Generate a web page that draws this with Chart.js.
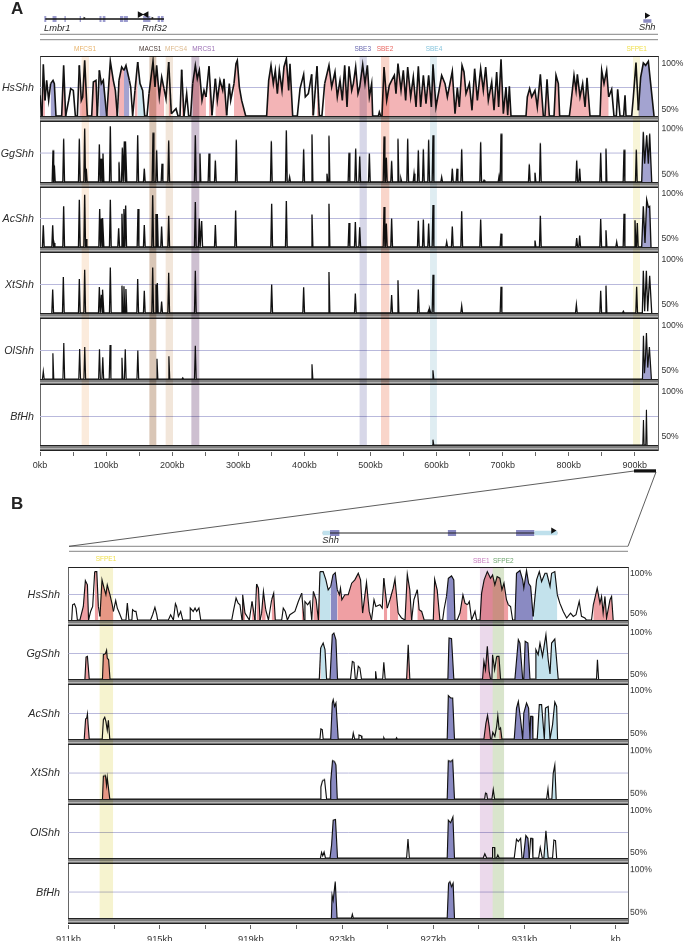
<!DOCTYPE html>
<html>
<head>
<meta charset="utf-8">
<title>VISTA plots</title>
<script src="https://cdn.jsdelivr.net/npm/chart.js@4/dist/chart.umd.js"></script>
<style>
  html, body { margin: 0; padding: 0; background: #fff; }
  #page { position: relative; width: 685px; height: 941px; overflow: hidden; font-family: "Liberation Sans", Arial, sans-serif; color: #2b2b2b; }
  #page canvas { position: absolute; left: 0; }
  .txt { position: absolute; white-space: nowrap; line-height: 1; }
  .strip { position: absolute; height: 6px; background: linear-gradient(#222 0 1px, #808080 1px 3px, #b4b4b4 3px 3.8px, #747474 3.8px 5px, #222 5px 6px); }
  .frame { position: absolute; box-sizing: border-box; border-left: 1px solid #666; border-right: 1.5px solid #666; border-top: 1px solid #222; }
  svg { position: absolute; left: 0; top: 0; }
  .bands { mix-blend-mode: multiply; }
</style>
</head>
<body>
<div id="page">
  <svg width="685" height="941">
    <g stroke="#777" stroke-width="0.9" fill="none">
      <line x1="40" y1="34.3" x2="658" y2="34.3"/>
      <line x1="40" y1="39.7" x2="658" y2="39.7"/>
      <line x1="69" y1="546.3" x2="628" y2="546.3"/>
      <line x1="69" y1="551.3" x2="628" y2="551.3"/>
    </g>
    <g stroke="#333" stroke-width="0.8" fill="none">
      <line x1="634" y1="471" x2="69" y2="546.3"/>
      <line x1="656" y1="472" x2="628" y2="546.3"/>
    </g>
    <rect x="634" y="469.3" width="22" height="3.2" fill="#111"/>
  </svg>
</div>
<script>
// species
const speciesA = ["HsShh", "GgShh", "AcShh", "XtShh", "OlShh", "BfHh"];
const speciesB = ["HsShh", "GgShh", "AcShh", "XtShh", "OlShh", "BfHh"];

// x axis ticks
const tickKbA = [0,50,100,150,200,250,300,350,400,450,500,550,600,650,700,750,800,850,900];
const tickTextA = ["0kb","","100kb","","200kb","","300kb","","400kb","","500kb","","600kb","","700kb","","800kb","","900kb"];
const tickKbB = [911,913,915,917,919,921,923,925,927,929,931,933,935];
const tickTextB = ["911kb","","915kb","","919kb","","923kb","","927kb","","931kb","","kb"];

// highlighted elements
const bandNamesA = ["MFCS1","MACS1","MFCS4","MRCS1","SBE3","SBE2","SBE4","SFPE1"];
const bandStartA = [63.5,166,190.6,229.5,484,516.4,590.6,897.7];
const bandEndA = [73.6,175.5,200.7,240.5,494,528,600,907.3];
const bandNamesB = ["SFPE1","SBE1","SFPE2"];
const bandStartB = [912.38,929.06,929.59];
const bandEndB = [912.94,929.59,930.09];

// panel A, whole locus: [kb, % identity]
const hsA = [[0,68.1],[3,50],[5,95.3],[7.6,63.7],[10.1,81.3],[13.1,63.7],[16.1,78.4],[19.7,81.3],[21.7,78.4],[24.2,50],[32.8,50],[35.8,94.4],[38.8,50],[43.4,63.7],[46.4,74],[50.4,72.5],[53.5,50],[56.5,50],[59.5,94.4],[62.5,63.7],[64.6,66.7],[67.6,98.8],[71.6,50],[78.2,50],[80.7,79.8],[84.7,81.3],[86.7,50],[89.8,90],[92.8,78.4],[95.8,81.3],[100.9,50],[106.4,98],[110.9,81.3],[114,72.5],[117,50],[119.5,81.3],[123.6,93],[127.1,90],[130.1,94.4],[135.2,81.3],[137.2,75.4],[140.2,50],[143.7,72.5],[147.8,97.4],[151.3,78.4],[155.3,72.5],[158.4,50],[161.9,50],[164.9,69.6],[171,98],[174,75.4],[176.5,94.4],[180.5,66.7],[184.1,84.2],[187.6,74],[190.6,65.2],[194.7,97.4],[198.7,52],[205.8,56.4],[208.8,50],[211.8,50],[214.3,90.6],[217.9,50],[221.9,69.6],[224.9,50],[227.9,50],[231,78.4],[235,94.4],[238,82.7],[241.1,90],[245.1,63.7],[248.1,72.5],[251.1,66.7],[255.7,93.6],[260.2,50.6],[265.3,82.7],[268.3,63.7],[272.3,81.3],[276.4,72.5],[278.4,82.7],[282.4,50.6],[286.4,78.4],[288.5,63.7],[293.5,78.4],[296.5,95.9],[298.5,98.8],[301.6,75.4],[305.1,63.7],[311.2,50],[342.9,50],[346,81.3],[349.5,94.4],[353,78.4],[356,90],[359.1,69.6],[362.1,90],[366.1,72.5],[369.1,93],[372.7,100.3],[376.2,72.5],[378.2,95.9],[382.3,50],[389.3,50],[393.4,74],[398.9,86.5],[401.4,66.7],[406,69.6],[411,86.5],[413.5,50.6],[419.1,93.6],[422.6,50],[426.6,50.6],[430.7,78.4],[437.2,94.4],[441.3,75.4],[446.3,88.6],[449.8,66.7],[453.9,81.3],[457.4,63.7],[461,94.4],[464.5,57.9],[467.5,93.6],[471.6,72.5],[474.1,78.4],[477.6,93],[481.1,69.6],[483.7,75.4],[488.2,95],[491.7,78.4],[495.3,94.4],[498.3,66.7],[501.8,78.4],[503.3,50],[511.9,50],[513.4,53.5],[515.4,50],[517.4,50],[520.5,93],[524.5,63.7],[528.5,76.9],[532.1,81.3],[536.1,85.7],[538.6,69.6],[541.6,95.9],[546.2,72.5],[549.7,90],[553.2,63.7],[556.3,93],[560.8,66.7],[564.8,84.2],[568.9,57.9],[572.4,93.6],[575.9,57.9],[580,85.7],[584,60.8],[588,85.7],[592.1,57.9],[594.6,95.3],[599.1,57.9],[603.7,72.5],[607.7,85.7],[612.8,78.4],[616.3,66.7],[623.8,89.2],[627.9,52],[631.4,74.9],[634.4,57.9],[638.5,94.4],[641.5,88.6],[644.5,69.6],[649.6,78.4],[653.6,55],[657.6,91.5],[661.7,63.7],[666.7,91.5],[670.7,72.5],[674.3,93],[678.3,63.7],[683.4,79.8],[686.9,55],[690.9,88.6],[693.9,57.9],[697.5,99.7],[701,52],[705,75.4],[707.6,50.6],[710.1,76],[712.6,50],[735.3,50],[737.3,66.7],[740.8,74],[743.9,66.7],[748.9,72.5],[752.4,57.9],[757,86.5],[761.5,50],[764,50],[767.1,82.2],[770.6,50],[777.7,50],[780.7,85.7],[784.2,78.4],[786.2,50],[800.9,50],[802.9,59.4],[807.9,85.7],[811,72.5],[813,86.5],[817,66.7],[821,78.4],[824.6,57.9],[827.6,83.6],[832.1,50],[847.3,50],[849.8,90],[853.3,78.4],[857.3,90],[860.4,66.7],[864.9,73.4],[868.4,50],[872,50],[874,73.4],[877.5,50],[883,50],[885.1,68.1],[886.6,50],[895.2,50],[897.7,66.7],[901.7,96.8],[905.3,55],[908.8,84.2],[912.8,96.5],[916.3,94.4],[920.4,98],[923.9,78.4],[929,50]];
const ggA = [[19.7,77.8],[21.7,64.6],[35.8,88],[59.5,88],[67.6,96.8],[70,61.7],[89.8,83],[92.3,70.5],[95.3,74.9],[106.4,98.8],[119.5,67.5],[124.6,80],[127.6,85.7],[130,85.7],[147.8,91],[157.8,61.7],[171,93.3],[176.5,77.8],[184.6,66],[194.7,86.3],[235,91],[242,74.9],[255.7,74.9],[265.3,69],[297,87],[350,86],[372.7,95.3],[377.7,54.4],[398.9,78.7],[411.5,91.8],[434.2,57.3],[437.2,90.6],[467.5,75.7],[477.6,79.2],[483.7,72.5],[498.3,74.9],[520.5,90],[524,71.3],[532,68.4],[541.6,88],[546,53],[556.3,88],[565.9,57.3],[572.4,77.8],[580,78.7],[588,87],[594.6,91],[607.7,54.4],[623.8,61.7],[630.9,61.7],[638,78.7],[666.7,85],[671.8,51.5],[694.5,55],[697.5,92.4],[740.3,65.5],[748.9,58.2],[757,84.2],[812,69],[816.5,61.7],[848.3,75.7],[856.3,79.2],[883.6,78.4],[902.2,78.4]];
const ggATail = [[910.3,50],[912.8,93.9],[914.8,66],[917.9,91],[920.4,66],[922.4,92.4],[925.5,50]];
const acA = [[5,69],[19.2,69],[21.2,53.5],[35.8,85.7],[59.5,91.5],[67.6,95.9],[69.6,57],[90.3,83.3],[92.8,74.9],[95.3,75.4],[106.4,91.5],[119,66.4],[124,79.2],[127,83.3],[129.6,86.3],[148.3,83.3],[157.8,69.3],[170.5,95.3],[175.5,79],[177.5,79],[184,68],[194.7,77.5],[235,89.5],[241,74.9],[244.6,72.8],[265.3,69.3],[296,82],[350.5,88],[372.7,90.4],[411.5,78.4],[437.2,88],[467.5,71],[477.1,72],[483.7,67.3],[520.5,85],[524,70.5],[532,74.9],[572.4,73],[580,74],[588,70.5],[594.6,86.8],[615.3,54.4],[623.8,68],[638,81.3],[666.7,74],[697.5,61.7],[748.9,55.6],[757,77.5],[812,57.9],[816.5,60],[848.3,74.6],[856.3,64.6],[872.5,54.4],[883.6,79.2],[900.2,73.4],[903.7,71]];
const acATail = [[910.3,50],[912.8,85.7],[915.3,53.5],[917.9,91.5],[920.4,85],[922.4,85.7],[924.4,50]];
const xtA = [[19.2,70.5],[35.3,81.6],[59.5,79.8],[67.6,88],[89.8,72.8],[92.8,66],[95.3,70.5],[106.4,89.8],[124,74],[127,73.4],[130,71],[147.8,79.8],[157.8,69.6],[170.5,89.8],[175.5,74.9],[177.5,76.3],[184,60],[194.7,85.4],[235,87],[350.5,74.9],[398.9,72.5],[437.2,86],[477.1,67],[532,65.8],[541.6,78.7],[572.4,70.5],[588,52.3],[590,53.8],[594.6,83.6],[638,56.4],[697.5,73],[811.5,57.3],[848.3,69.6],[856.3,74],[882.6,51.5],[902.7,73]];
const xtATail = [[911.3,50],[912.8,87],[914.8,51.5],[917.4,87],[919.4,51.5],[922.4,82.7],[925.5,50]];
const olA = [[5,56.7],[19.5,72.5],[36,81.6],[60,76.3],[67.7,78],[90,76],[95,69],[106,79.8],[124,68.7],[129,76],[148,75],[177,67.8],[195,70],[216,51],[235,79.2],[411.5,63],[594.5,57.6]];
const olATail = [[911.5,50],[913,88],[914.5,55],[916,68],[917.5,90.4],[919.5,60],[922,78],[925,50]];
const bfA = [[594.5,54.7]];
const bfATail = [[912,50],[913,72],[914,50],[916.5,50],[917.5,81],[918.5,50]];

// fill regions [start kb, end kb, kind]: 0 conserved non-coding, 1 exon, 2 UTR
const hsAFill = [[3,7.6,0],[16.1,24.2,1],[32.8,38.8,0],[59.5,71.6,0],[78.2,86.7,0],[89.8,100.9,1],[100.9,117,0],[119.5,127.1,0],[127.1,135.2,1],[143.7,147.8,0],[147.8,158.4,2],[164.9,187.6,0],[194.7,198.7,0],[214.3,217.9,0],[231,251.1,0],[255.7,260.2,0],[265.3,282.4,0],[293.5,311.2,0],[342.9,382.3,0],[411,413.5,0],[419.1,422.6,0],[430.7,503.3,0],[517.4,712.6,0],[735.3,761.5,0],[764,770.6,0],[777.7,786.2,0],[800.9,832.1,0],[847.3,860.4,0],[905.3,929,1]];
const ggAFill = [[910,926,1]];
const acAFill = [[910,925,1]];
const olAFill = [[911,925,1]];

// panel B, zoom on Shh
const hsB = [[911.14,50],[911.18,64.7],[911.26,65.7],[911.33,61.5],[911.39,50],[911.5,50],[911.65,63.1],[911.74,88.1],[911.83,84],[911.88,50],[911.97,58.3],[912.06,63.1],[912.15,96.8],[912.24,96.8],[912.31,63.1],[912.38,53.5],[912.47,88.8],[912.56,80.8],[912.64,74.4],[912.7,84],[912.82,74.4],[912.91,65.7],[912.97,58.3],[913.07,68.9],[913.14,61.5],[913.23,56.7],[913.35,50],[913.52,50],[913.58,66.3],[913.65,50],[913.78,50],[913.81,59.9],[913.9,58.3],[913.96,58.3],[914.03,50],[914.6,50],[914.69,55.1],[914.79,62.2],[914.87,55.1],[914.91,50],[915.38,50],[915.48,55.1],[915.6,50],[915.69,65.7],[915.74,63.1],[915.82,53.5],[915.92,58.3],[916.01,50],[916.33,50],[916.34,61.5],[916.47,58.3],[916.55,61.5],[916.62,58.3],[916.72,61.5],[916.8,50],[918.16,50],[918.23,58.3],[918.35,71.2],[918.44,66.3],[918.52,64.7],[918.61,50],[918.64,74.4],[918.74,56.7],[918.93,50],[919.05,67.9],[919.18,50],[919.25,84.9],[919.33,80.8],[919.4,50],[919.47,56.7],[919.55,77.6],[919.65,59.9],[919.77,50],[919.91,69.6],[920,76],[920.07,50],[920.35,50],[920.42,61.5],[920.51,58.3],[920.6,50],[920.71,55.1],[920.93,58.3],[921.08,67.9],[921.23,76],[921.33,50],[921.37,67.9],[921.49,64.7],[921.59,67.9],[921.67,50],[921.74,77.6],[921.86,69.6],[921.96,50],[922.03,96.8],[922.17,96.8],[922.29,88.8],[922.39,79.2],[922.5,82.4],[922.6,93.6],[922.7,95.8],[922.79,79.2],[922.88,74.4],[922.93,80.8],[922.99,69.6],[923.12,74.4],[923.27,74.4],[923.42,85.6],[923.56,88.8],[923.71,95.2],[923.81,88.8],[923.9,56.7],[924.07,86.2],[924.19,58.3],[924.29,50],[924.4,69.6],[924.48,63.1],[924.66,64.7],[924.76,61.5],[924.83,90.4],[924.92,72.8],[924.98,61.5],[925.1,69.6],[925.24,80.8],[925.32,89.7],[925.46,56.7],[925.61,51.9],[925.76,50],[925.86,94.2],[925.97,79.2],[926.05,50],[926.15,69.6],[926.3,79.2],[926.38,59.9],[926.49,58.3],[926.6,50],[927,50],[927.06,89.4],[927.17,79.2],[927.29,50],[927.41,50],[927.47,59.9],[927.58,72.8],[927.66,90.4],[927.8,92.6],[927.9,88.8],[927.95,50],[928.05,50],[928.17,56.7],[928.3,74.4],[928.39,66.3],[928.5,64.7],[928.58,67.9],[928.68,50],[928.83,58.3],[928.9,50],[929.05,50],[929.12,76],[929.23,88.8],[929.37,96.8],[929.51,90.4],[929.6,93.6],[929.7,84],[929.8,92],[929.92,90.4],[930.01,79.2],[930.1,85.6],[930.21,69.6],[930.29,64.7],[930.39,63.1],[930.48,50],[930.58,50],[930.65,95.2],[930.8,97.8],[930.92,88.8],[930.97,80.8],[931.09,97.8],[931.18,85.6],[931.27,82.4],[931.38,53.5],[931.53,88.8],[931.65,96.8],[931.75,87.2],[931.9,95.2],[931.98,95.2],[932.12,82.4],[932.19,95.2],[932.33,96.8],[932.44,74.4],[932.55,66.3],[932.7,58.3],[932.85,51.9],[933.02,56.7],[933.14,53.5],[933.26,55.1],[933.4,67.9],[933.5,53.5],[933.65,51.9],[933.72,50],[933.94,50],[934.02,64.7],[934.19,80.8],[934.31,66.3],[934.38,72.8],[934.45,56.7],[934.53,72.8],[934.6,51.9],[934.75,69.6],[934.82,72.8],[934.89,50]];
const ggB = [[911.72,50],[911.77,71.7],[911.83,72.4],[911.91,50],[912.49,50],[912.53,74],[912.62,75],[912.67,78.3],[912.7,70.7],[912.76,69],[912.82,50],[922,50],[922.06,80.6],[922.17,85.5],[922.25,79],[922.32,50],[922.47,50],[922.57,93.8],[922.64,95.4],[922.73,88.8],[922.8,50],[923.37,50],[923.45,67.4],[923.52,66.5],[923.58,50],[923.64,50],[923.71,62.5],[923.78,60.9],[923.85,50],[924.45,50],[924.47,57.6],[924.51,50],[924.78,50],[924.83,66.5],[924.89,50],[925.83,50],[925.9,83.9],[925.97,50],[927.64,50],[927.69,90.5],[927.8,89.8],[927.9,50],[929.16,50],[929.22,67.4],[929.29,59.2],[929.37,82.2],[929.45,57.6],[929.51,50],[929.57,50],[929.6,74],[929.69,59.2],[929.78,72.4],[929.88,72.4],[929.95,50],[930.58,50],[930.73,88.8],[930.8,85.5],[930.92,50],[930.97,50],[931.03,87.2],[931.15,85.5],[931.24,50],[931.47,50],[931.5,79],[931.6,74],[931.68,85.5],[931.79,72.4],[931.94,93.8],[932.04,69],[932.12,55],[932.19,85.5],[932.33,89.5],[932.48,50],[934.16,50],[934.2,69],[934.25,50]];
const acB = [[911.69,50],[911.75,69.7],[911.8,70.7],[911.83,74.7],[911.86,64],[911.91,50],[912.48,50],[912.53,69],[912.59,71.4],[912.64,67.4],[912.7,58.6],[912.75,68.4],[912.81,50],[922.03,50],[922.07,59.9],[922.13,59.2],[922.17,50],[922.5,50],[922.57,85.5],[922.61,88.8],[922.67,82.2],[922.73,85.5],[922.83,50],[923.45,50],[923.49,55.9],[923.55,50],[923.71,50],[923.74,53.9],[923.83,53.3],[923.87,50],[924.8,50],[924.83,51.3],[924.86,50],[925.36,50],[925.39,51.3],[925.42,50],[927.61,50],[927.66,92.8],[927.76,90.5],[927.85,90.5],[927.93,50],[929.22,50],[929.31,65.8],[929.38,73.4],[929.45,62.5],[929.51,50],[929.56,50],[929.61,56.6],[929.7,52.6],[929.78,62.5],[929.83,73],[929.89,59.2],[929.95,60.9],[930.01,50],[930.55,50],[930.65,80.6],[930.73,87.2],[930.83,69],[930.92,50],[930.97,75.7],[931.09,85.5],[931.18,80.6],[931.24,50],[931.27,72.4],[931.34,72.4],[931.37,50],[931.56,50],[931.65,83.9],[931.75,83.9],[931.87,50],[931.92,80.6],[932.04,82.2],[932.12,50],[932.23,64],[932.33,86.5],[932.41,82.2],[932.45,50]];
const xtB = [[912.49,50],[912.53,72.4],[912.62,73],[912.67,63.5],[912.7,71],[912.81,50],[922.04,50],[922.07,61.8],[922.14,67.8],[922.23,69],[922.32,50],[922.47,50],[922.5,66.8],[922.58,87.5],[922.67,86.5],[922.73,83.2],[922.79,50],[927.61,50],[927.66,87.5],[927.76,86.5],[927.85,88.2],[927.93,50],[929.25,50],[929.29,55.9],[929.34,55.3],[929.38,50],[929.57,50],[929.63,59.2],[929.69,50],[931.97,50],[932.03,59.9],[932.07,50],[932.2,50],[932.26,75],[932.33,83.2],[932.39,50]];
const olB = [[922.05,50],[922.1,55.6],[922.15,52.3],[922.21,55.9],[922.27,50],[922.47,50],[922.54,63.2],[922.61,87.8],[922.71,88.5],[922.8,50],[925.83,50],[925.89,69],[925.95,50],[927.61,50],[927.66,87.8],[927.76,85.2],[927.86,91],[927.93,50],[929.19,50],[929.26,54.3],[929.34,50],[929.59,50],[929.6,60.5],[929.69,60.5],[929.7,50],[929.78,50],[929.83,53],[929.89,50],[930.55,50],[930.65,68.8],[930.73,66.5],[930.83,69.7],[930.89,50],[930.95,50],[931.06,72.4],[931.15,69.7],[931.21,50],[931.27,69.7],[931.33,69.7],[931.37,50],[931.62,50],[931.69,60.5],[931.78,50],[931.85,50],[931.94,77.3],[932.04,50],[932.23,50],[932.29,68],[932.36,67.4],[932.41,50]];
const bfB = [[922.53,50],[922.56,72.4],[922.61,67.4],[922.7,85.5],[922.78,50],[923.41,50],[923.45,53.6],[923.49,50],[927.61,50],[927.67,83.9],[927.73,85.5],[927.8,80.6],[927.87,83.9],[927.93,50]];

const hsBFill = [[911.5,911.88,0],[912.15,912.31,0],[912.38,912.97,0],[918.61,918.74,0],[919.05,919.18,0],[919.25,919.4,0],[919.47,919.65,0],[919.91,920.07,0],[921.23,921.33,0],[921.74,922.03,0],[922.03,922.5,2],[922.5,922.79,1],[922.79,924.29,0],[924.83,924.98,0],[925.1,925.46,0],[925.76,926.05,0],[926.3,926.6,0],[927,927.29,0],[927.58,927.95,1],[928.17,928.5,0],[929.05,930.29,0],[930.58,931.38,1],[931.38,932.44,2],[934.02,934.89,0]];
const ggBFill = [[911.72,911.91,0],[912.49,912.82,0],[922,922.06,0],[922.06,922.32,2],[922.47,922.8,1],[925.83,925.97,0],[927.64,927.9,1],[929.16,929.51,0],[929.78,929.95,0],[930.58,931.24,1],[931.47,932.48,2]];
const acBFill = [[911.69,911.91,0],[922.5,922.83,1],[927.61,927.93,1],[929.22,929.51,0],[929.89,930.01,0],[930.55,931.37,1],[931.56,932.45,2]];
const xtBFill = [[912.49,912.81,0],[922.47,922.79,1],[927.61,927.93,1],[932.2,932.39,2]];
const olBFill = [[922.47,922.8,1],[927.61,927.93,1],[930.95,931.21,1],[931.85,932.04,2]];
const bfBFill = [[922.53,922.78,1],[927.61,927.93,1]];

// gene models
const lmbrExons = [[6.5,9.5],[19,25],[37,39],[60,62],[90,93],[95,99],[121,126],[127,133],[156,167],[178,181.5],[183,187]];
const shhExonsA = [[912.8,925]];
const shhExonsB = [[922.47,922.88],[927.64,928],[930.63,931.43]];
const shhUtrB = [[922.15,922.47],[931.43,932.44]];

const fillKindsA = ["#F3B4B6", "#A3A3D0", "#CFE6EF"];
const fillKindsB = ["#EF9FA3", "#8A8AC2", "#C3E2EC"];
const bandColoursA = ["#FBEBDC","#D9C6B6","#F2E6DA","#CDBFD0","#D7D7E8","#F9D5CA","#DFEDF2","#F8F5D8"];
const bandColoursB = ["#F6F3CF","#EBD9EB","#D9E5CC"];
const bandTextA = ["#E8B36A","#4A3A35","#DDB98C","#9B6FB5","#6A6AB0","#E8655F","#86C5DD","#F0E04F"];
const bandTextB = ["#F0E04F","#C77DBF","#6FA56F"];

Chart.defaults.plugins.legend.display = false;
Chart.defaults.plugins.tooltip.enabled = false;
Chart.defaults.animation = false;
Chart.defaults.responsive = false;
Chart.defaults.events = [];

const page = document.getElementById("page");
const FONT = '"Liberation Sans", Arial, sans-serif';

function addText(text, x, y, o) {
    const el = document.createElement("div");
    el.className = "txt";
    el.textContent = text;
    el.style.left = x + "px";
    el.style.top = y + "px";
    el.style.fontSize = o.size + "px";
    if (o.color) el.style.color = o.color;
    if (o.italic) el.style.fontStyle = "italic";
    if (o.bold) el.style.fontWeight = "bold";
    el.style.transform = "translate(" + (o.align === "right" ? "-100%" : o.align === "left" ? "0" : "-50%") + ",-50%)";
    page.appendChild(el);
}

function addBox(cls, left, top, width, height) {
    const el = document.createElement("div");
    el.className = cls;
    el.style.left = left + "px";
    el.style.top = top + "px";
    el.style.width = width + "px";
    if (height) el.style.height = height + "px";
    page.appendChild(el);
}

function addCanvas(top, height, cls) {
    const c = document.createElement("canvas");
    c.width = 685;
    c.height = height;
    c.style.top = top + "px";
    c.style.width = "685px";
    c.style.height = height + "px";
    if (cls) c.className = cls;
    page.appendChild(c);
    return c;
}

// spikes of the low-identity tracks, from the peak readings
function spikes(peaks) {
    const pts = [];
    peaks.forEach(p => {
        pts.push([p[0] - 1.3, 50], p, [p[0] + 1.3, 50]);
    });
    return pts;
}

function fillAt(kinds, regions, kb) {
    const r = regions.find(f => kb >= f[0] - 0.0001 && kb < f[1]);
    return r ? kinds[r[2]] : "rgba(255,255,255,0)";
}

function drawTrack(panel, top, bottom, pts, regions, labelVals, labelText, pxPer25, lineWidth) {
    const ymax = 50 + (bottom - top) * 25 / pxPer25;
    const vals = [labelVals[0], 75, labelVals[1]];
    const text = [labelText[0], "", labelText[1]];
    new Chart(addCanvas(top, bottom - top), {
        type: "line",
        data: {
            datasets: [{
                data: pts.map(p => ({ x: p[0], y: p[1] })),
                borderColor: "#111",
                borderWidth: lineWidth,
                pointRadius: 0,
                tension: 0,
                fill: { value: 50 },
                backgroundColor: "rgba(255,255,255,0)",
                segment: { backgroundColor: c => fillAt(panel.kinds, regions, c.p0.parsed.x) }
            }]
        },
        options: {
            layout: { autoPadding: false, padding: { left: panel.left, right: 0, top: 0, bottom: 0 } },
            scales: {
                x: { type: "linear", display: false, min: panel.xmin, max: panel.xmax },
                y: {
                    type: "linear",
                    position: "right",
                    min: 50,
                    max: ymax,
                    // keep the plot the full height of the track, tick labels must not pad it
                    afterFit: s => {
                        s.width = 685 - panel.right;
                        s.paddingTop = 0;
                        s.paddingBottom = 0;
                        s._margins.top = 0;
                        s._margins.bottom = 0;
                        s.height = s._length = bottom - top;
                    },
                    afterBuildTicks: s => { s.ticks = vals.map(v => ({ value: v })); },
                    border: { display: false },
                    grid: {
                        drawTicks: false,
                        lineWidth: 1,
                        color: c => c.tick && c.tick.value === 75 ? "#B9B9DC" : "rgba(0,0,0,0)"
                    },
                    ticks: {
                        autoSkip: false,
                        padding: panel.labelPad,
                        color: "#333",
                        font: { family: FONT, size: 8.6 },
                        callback: (v, i) => text[i]
                    }
                }
            }
        }
    });
}

function drawBands(panel, top, bottom, starts, ends, colours) {
    new Chart(addCanvas(top, bottom - top, "bands"), {
        type: "bar",
        data: {
            labels: ["band"],
            datasets: starts.map((s, i) => ({
                data: [[s, ends[i]]],
                backgroundColor: colours[i],
                borderWidth: 0,
                barPercentage: 1,
                categoryPercentage: 1,
                grouped: false
            }))
        },
        options: {
            indexAxis: "y",
            layout: { autoPadding: false, padding: { left: panel.left, right: 685 - panel.right, top: 0, bottom: 0 } },
            scales: {
                x: { type: "linear", display: false, min: panel.xmin, max: panel.xmax },
                y: { display: false }
            }
        }
    });
}

function drawAxis(panel, top, kbs, text, labelPad, size) {
    new Chart(addCanvas(top, 30), {
        type: "line",
        data: { datasets: [] },
        options: {
            layout: { autoPadding: false, padding: { left: panel.left, right: 685 - panel.right, top: 0, bottom: 0 } },
            scales: {
                x: {
                    type: "linear",
                    position: "bottom",
                    min: panel.xmin,
                    max: panel.xmax,
                    afterFit: s => { s.height = 29; },
                    afterBuildTicks: s => { s.ticks = kbs.map(v => ({ value: v })); },
                    border: { display: false },
                    grid: { drawOnChartArea: false, tickLength: 4, tickColor: "#666", tickWidth: 1 },
                    ticks: {
                        autoSkip: false,
                        maxRotation: 0,
                        padding: labelPad,
                        color: "#333",
                        font: { family: FONT, size: size },
                        callback: (v, i) => text[i]
                    }
                },
                y: { display: false, min: 0, max: 1 }
            }
        }
    });
}

// gene model: line spans (introns, exons, UTRs) plus arrowheads
function drawGene(panel, top, height, lines, arrows) {
    const datasets = [];
    arrows.forEach(a => {
        datasets.push({
            data: [{ x: a[0], y: a[1] }],
            showLine: false,
            pointStyle: "triangle",
            pointRotation: a[3],
            pointRadius: a[2],
            pointBackgroundColor: "#111",
            pointBorderWidth: 0
        });
    });
    lines.forEach(l => {
        const data = [];
        l.spans.forEach(s => {
            data.push({ x: s[0], y: l.y }, { x: s[1], y: l.y }, { x: s[1], y: null });
        });
        datasets.push({ data: data, borderColor: l.colour, borderWidth: l.width, pointRadius: 0, spanGaps: false, borderCapStyle: "butt" });
    });
    new Chart(addCanvas(top, height), {
        type: "line",
        data: { datasets: datasets },
        options: {
            layout: { autoPadding: false, padding: { left: panel.left, right: 685 - panel.right, top: 0, bottom: 0 } },
            scales: {
                x: { type: "linear", display: false, min: panel.xmin, max: panel.xmax },
                y: { display: false, min: 0, max: 1 }
            }
        }
    });
}

// panel A
const panelA = { left: 40, right: 658, xmin: 0, xmax: 935, kinds: fillKindsA, labelPad: 3.5 };
const baseA = [116, 181.7, 247.3, 313.3, 379, 444.7];
const topA = [56, 122.7, 188.3, 254.3, 320, 385.7];
const seriesA = [hsA, spikes(ggA).concat(ggATail), spikes(acA).concat(acATail), spikes(xtA).concat(xtATail), spikes(olA).concat(olATail), spikes(bfA).concat(bfATail)];
const fillsA = [hsAFill, ggAFill, acAFill, [], olAFill, []];
const labelAtA = [[56, 96.2], [57, 97], [57, 97], [57, 97], [57, 97], [57, 97]];
const lineWidthA = [1.6, 1.35, 1.35, 1.3, 1.2, 1.1];

addBox("frame", 39.5, 56, 619.5, 395);
seriesA.forEach((s, i) => {
    drawTrack(panelA, topA[i], baseA[i], s, fillsA[i], labelAtA[i], ["50%", "100%"], 28.5, lineWidthA[i]);
    addBox("strip", 39.5, baseA[i], 618.5);
    addText(speciesA[i], 34, baseA[i] - 29, { size: 10.7, italic: true, align: "right" });
});
drawBands(panelA, 56, 444.7, bandStartA, bandEndA, bandColoursA);
drawAxis(panelA, 451, tickKbA, tickTextA, 4, 9);

drawGene(panelA, 9.3, 20, [
    { y: 0.5, width: 1.3, colour: "#111", spans: [[8, 187.6]] },
    { y: 0.5, width: 6, colour: "#9C9CCF", spans: lmbrExons },
    { y: 0.4, width: 3.5, colour: "#8A8AC2", spans: shhExonsA }
], [
    [151, 0.72, 4, 90], [161, 0.72, 4, -90], [67, 0.55, 1.5, 90], [170, 0.55, 1.5, 90], [918, 0.67, 3.5, 90]
]);
addText("Lmbr1", 44, 28.7, { size: 9.3, italic: true, align: "left" });
addText("Rnf32", 142, 28.7, { size: 9.3, italic: true, align: "left" });
addText("Shh", 639, 28.2, { size: 9.3, italic: true, align: "left" });

const bandLabelXA = [85, 150.3, 176, 203.7, 362.7, 385, 434, 636.7];
bandNamesA.forEach((n, i) => addText(n, bandLabelXA[i], 49.3, { size: 6.5, color: bandTextA[i] }));
addText("A", 11, 7.5, { size: 17, bold: true, align: "left", color: "#222" });

// panel B
const panelB = { left: 68.5, right: 628, xmin: 911, xmax: 935.54, kinds: fillKindsB, labelPad: 2 };
const baseB = [620.3, 679.3, 739.3, 798.7, 858.3, 917.7];
const topB = [567, 626.3, 685.3, 745.3, 804.7, 864.3];
const seriesB = [hsB, ggB, acB, xtB, olB, bfB];
const fillsB = [hsBFill, ggBFill, acBFill, xtBFill, olBFill, bfBFill];
const labelAtB = [[56, 95], [54.5, 95.8], [55, 97.4], [55, 97.4], [55, 97.4], [55, 97.4]];
const nameYB = [594, 653, 712.7, 771.7, 831.7, 891.7];

addBox("frame", 68, 567, 561, 357);
seriesB.forEach((s, i) => {
    drawTrack(panelB, topB[i], baseB[i], s, fillsB[i], labelAtB[i], ["50%", "100%"], i === 0 ? 26 : 25.3, 1.15);
    addBox("strip", 68, baseB[i], 560);
    addText(speciesB[i], 60, nameYB[i], { size: 10.8, italic: true, align: "right" });
});
drawBands(panelB, 567, 917.7, bandStartB, bandEndB, bandColoursB);
drawAxis(panelB, 924, tickKbB, tickTextB, 4.5, 9.4);

drawGene(panelB, 522.7, 20, [
    { y: 0.5, width: 4.5, colour: "#BFE0EC", spans: shhUtrB },
    { y: 0.5, width: 1.1, colour: "#222", spans: [[922.15, 932.44]] },
    { y: 0.5, width: 6, colour: "#8787C0", spans: shhExonsB }
], [
    [932.25, 0.62, 3.5, 90]
]);
addText("Shh", 322.3, 541, { size: 9.3, italic: true, align: "left" });

const bandLabelXB = [106, 481.3, 503.3];
const bandLabelYB = [559.3, 560.7, 560.7];
bandNamesB.forEach((n, i) => addText(n, bandLabelXB[i], bandLabelYB[i], { size: 6.5, color: bandTextB[i] }));
addText("B", 11, 503, { size: 17, bold: true, align: "left", color: "#222" });
</script>
</body>
</html>
